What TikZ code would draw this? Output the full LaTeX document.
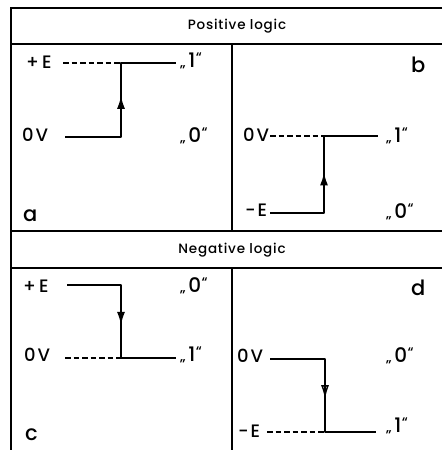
\documentclass[tikz,border=0pt]{standalone}
\usepackage{fontspec}
\setmainfont{Poppins}[UprightFont=* Medium]
\newfontfamily\headfont{Poppins}[UprightFont=* Medium, LetterSpace=6]
\usetikzlibrary{arrows.meta,calc}
\newcommand{\logicval}[1]{{\fontsize{14}{16}\selectfont „}\kern2.5pt#1\kern0.5pt\raisebox{4.5pt}{\fontsize{14}{16}\selectfont “}}
\tikzset{
  >=Latex,
  frame/.style={line width=1.6pt},
  level/.style={line width=2.6pt, line join=round},
  guide/.style={line width=1.1pt, dash pattern=on 5.5pt off 3pt},
  edgeup/.style={line width=2.6pt, -{Latex[length=14pt,width=8pt]}},
  edgeopen/.style={line width=1.4pt, -{Latex[open,length=14pt,width=8pt,line width=1.4pt]}},
  heading/.style={font=\headfont\fontsize{13.5}{15}\selectfont},
  volt/.style={anchor=base west, inner sep=0pt, font=\fontsize{18}{20}\selectfont},
  value/.style={anchor=base west, inner sep=0pt, font=\fontsize{20}{22}\selectfont},
  tag/.style={anchor=base west, inner sep=0pt, font=\fontsize{21}{23}\selectfont}
}

\begin{document}
\begin{tikzpicture}[x=1pt,y=-1pt]
\useasboundingbox (0,0) rectangle (442,450);

% ------------------------------------------------------------------
% table frame
% ------------------------------------------------------------------
\coordinate (tl) at (11,8);
\coordinate (tr) at (442,8);
\coordinate (bl) at (11,450);
\draw[frame] (tr) -- (tl) -- (bl);
\draw[frame] (11,44) -- (442,44);
\draw[frame] (11,231) -- (442,231);
\draw[frame] (11,268) -- (442,268);
\draw[frame] (232,44) -- (232,231);
\draw[frame] (232,268) -- (232,450);

\node[heading] (posHead) at (237,26) {Positive logic};
\node[heading] (negHead) at (232,250) {Negative logic};

% ------------------------------------------------------------------
% a: positive logic, 0V / +E
% ------------------------------------------------------------------
\node[volt] (aHi) at (26,68) {+\kern3pt E};
\node[volt] (aLo) at (22,141) {0\kern2pt V};
\node[value] (aOne) at (180,67) {\logicval{1}};
\node[value] (aZero) at (180,142) {\logicval{0}};
\node[tag] (aTag) at (23,221) {a};

\coordinate (aDash) at (63,63);
\coordinate (aStart) at (65,137);
\coordinate (aEdgeLo) at (121,137);
\coordinate (aEdgeHi) at (121,63);
\coordinate (aEnd) at (176,63);

\draw[guide] (aDash) -- (aEdgeHi);
\draw[level] (aStart) -- (aEdgeLo) -- (aEdgeHi) -- (aEnd);
\draw[edgeup] (aEdgeLo) -- ($(aEdgeLo)!0.57!(aEdgeHi)$);

% ------------------------------------------------------------------
% b: positive logic, -E / 0V
% ------------------------------------------------------------------
\node[volt] (bHi) at (243,141) {0\kern2pt V};
\node[volt] (bLo) at (245,216) {-\kern2pt E};
\node[value] (bOne) at (386,142) {\logicval{1}};
\node[value] (bZero) at (386,218) {\logicval{0}};
\node[tag] (bTag) at (411,72) {b};

\coordinate (bDash) at (270,136);
\coordinate (bStart) at (270,213);
\coordinate (bEdgeLo) at (324,213);
\coordinate (bEdgeHi) at (324,136);
\coordinate (bEnd) at (378,136);

\draw[guide] (bDash) -- (bEdgeHi);
\draw[level] (bStart) -- (bEdgeLo) -- (bEdgeHi) -- (bEnd);
\draw[edgeup] (bEdgeLo) -- ($(bEdgeLo)!0.54!(bEdgeHi)$);

% ------------------------------------------------------------------
% c: negative logic, 0V / +E
% ------------------------------------------------------------------
\node[volt] (cHi) at (23,292) {+\kern3pt E};
\node[volt] (cLo) at (24,361) {0\kern2pt V};
\node[value] (cZero) at (180,292) {\logicval{0}};
\node[value] (cOne) at (180,361) {\logicval{1}};
\node[tag] (cTag) at (25,440) {c};

\coordinate (cStart) at (67,285);
\coordinate (cEdgeHi) at (121,285);
\coordinate (cEdgeLo) at (121,358);
\coordinate (cDash) at (65,358);
\coordinate (cEnd) at (176,358);

\draw[guide] (cDash) -- (cEdgeLo);
\draw[level] (cStart) -- (cEdgeHi) -- (cEdgeLo) -- (cEnd);
\draw[edgeup] (cEdgeHi) -- ($(cEdgeHi)!0.56!(cEdgeLo)$);

% ------------------------------------------------------------------
% d: negative logic, -E / 0V
% ------------------------------------------------------------------
\node[volt] (dHi) at (237,362) {0\kern2pt V};
\node[volt] (dLo) at (238,437) {-\kern2pt E};
\node[value] (dZero) at (386,362) {\logicval{0}};
\node[value] (dOne) at (386,432) {\logicval{1}};
\node[tag] (dTag) at (411,295) {d};

\coordinate (dStart) at (270,359);
\coordinate (dEdgeHi) at (325,359);
\coordinate (dEdgeLo) at (325,432);
\coordinate (dDash) at (267,432);
\coordinate (dEnd) at (376,432);

\draw[guide] (dDash) -- (dEdgeLo);
\draw[level] (dStart) -- (dEdgeHi) -- (dEdgeLo) -- (dEnd);
\draw[edgeopen] (dEdgeHi) -- ($(dEdgeHi)!0.55!(dEdgeLo)$);

\end{tikzpicture}
\end{document}
